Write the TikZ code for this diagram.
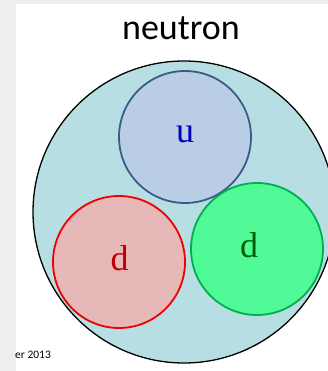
\documentclass[tikz,border=0pt]{standalone}
\usepackage{fontspec}
\setmainfont{Liberation Serif}
\newfontfamily\calibri{Carlito}
\definecolor{bggray}{HTML}{EEEEEE}
\definecolor{nucfill}{HTML}{B7DEE2}
\definecolor{ufill}{HTML}{B9CDE5}
\definecolor{uline}{HTML}{385D8A}
\definecolor{utext}{HTML}{0000C0}
\definecolor{rfill}{HTML}{E6B9B8}
\definecolor{rline}{HTML}{F00000}
\definecolor{rtext}{HTML}{C00000}
\definecolor{gfill}{HTML}{50FA96}
\definecolor{gline}{HTML}{00B050}
\definecolor{gtext}{HTML}{006000}
\begin{document}
\begin{tikzpicture}[x=1pt,y=-1pt,line cap=round,line join=round,
  quark/.style={circle,minimum size=132pt,inner sep=0pt,line width=1.8pt},
  flavour/.style={anchor=base,inner sep=0pt,font=\fontsize{36}{36}\selectfont}]
\useasboundingbox (0,0) rectangle (328,371);
\fill[bggray] (0,0) rectangle (328,371);
\fill[white] (16,4) rectangle (328,371);
\node[anchor=base,inner sep=0pt,font=\calibri\fontsize{36}{36}\selectfont] (title) at (181,40) {neutron};
\begin{scope}
\clip (16,4) rectangle (328,371);
\node[circle,minimum size=302pt,inner sep=0pt,fill=nucfill,draw=black,line width=1.3pt] (nucleon) at (184,212) {};
\end{scope}
\node[quark,fill=ufill,draw=uline] (up) at (185,137) {};
\node[quark,fill=rfill,draw=rline] (downred) at (119,262) {};
\node[quark,fill=gfill,draw=gline] (downgreen) at (257,249) {};
\node[flavour,text=utext] (ulabel) at (185,143) {u};
\node[flavour,text=rtext] (dlabel) at (119.5,270) {d};
\node[flavour,text=gtext] (dlabel2) at (249,257) {d};
\node[anchor=base west,inner sep=0pt,font=\calibri\fontsize{11.5}{12}\selectfont] (year) at (15,358) {er 2013};
\end{tikzpicture}
\end{document}
